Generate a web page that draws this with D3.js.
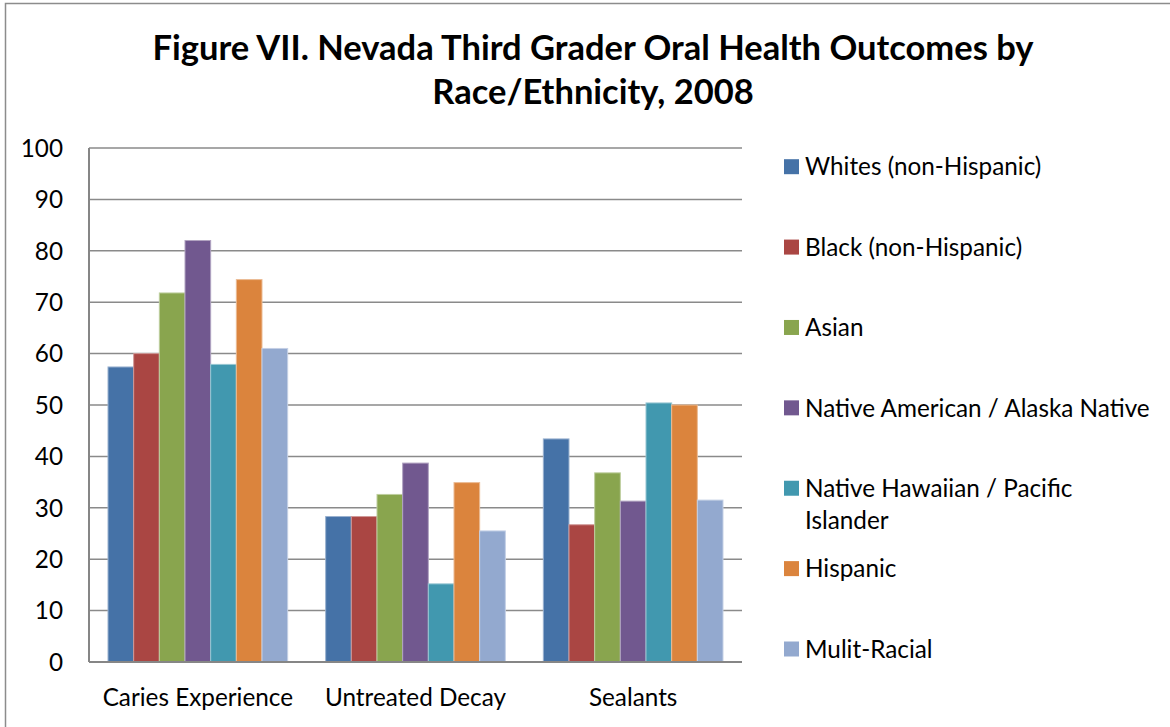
<!DOCTYPE html>
<html>
<head>
<meta charset="utf-8">
<script src="https://cdn.jsdelivr.net/npm/d3@7/dist/d3.min.js"></script>
<style>
  body { margin: 0; background: #fff; }
  svg { display: block; font-family: Lato, 'Liberation Sans', sans-serif; }
</style>
</head>
<body>
<div id="chart"></div>
<script>
const categories = ['Caries Experience', 'Untreated Decay', 'Sealants'];
const seriesNames = [
  'Whites (non-Hispanic)',
  'Black (non-Hispanic)',
  'Asian',
  'Native American / Alaska Native',
  'Native Hawaiian / Pacific Islander',
  'Hispanic',
  'Mulit-Racial'
];
const legendLines = [
  ['Whites (non-Hispanic)'],
  ['Black (non-Hispanic)'],
  ['Asian'],
  ['Native American / Alaska Native'],
  ['Native Hawaiian / Pacific', 'Islander'],
  ['Hispanic'],
  ['Mulit-Racial']
];
// one array per series, values in category order
const whites = [57.4, 28.3, 43.4];
const black = [60.0, 28.3, 26.7];
const asian = [71.8, 32.6, 36.8];
const nativeAmerican = [82.0, 38.7, 31.3];
const nativeHawaiian = [57.9, 15.2, 50.4];
const hispanic = [74.4, 34.9, 50.0];
const multiRacial = [61.0, 25.5, 31.5];
const yTicks = [0, 10, 20, 30, 40, 50, 60, 70, 80, 90, 100];
const colors = ['#4572A7', '#AA4643', '#89A54E', '#71588F', '#4198AF', '#DB843D', '#93A9CF'];

const seriesValues = [whites, black, asian, nativeAmerican, nativeHawaiian, hispanic, multiRacial];

const width = 1170;
const height = 727;
const plot = { left: 89, right: 742, top: 148, bottom: 662 };
const LABEL_SIZE = 24.3;

const svg = d3.select('#chart')
  .append('svg')
  .attr('width', width)
  .attr('height', height);

// chart border (Excel chart area)
svg.append('rect')
  .attr('x', 5.5)
  .attr('y', 3.5)
  .attr('width', 1200)
  .attr('height', 800)
  .attr('fill', '#fff')
  .attr('stroke', '#8c8c8c')
  .attr('stroke-width', 1.5);

// title
svg.append('text')
  .attr('x', 593)
  .attr('text-anchor', 'middle')
  .attr('font-weight', 'bold')
  .attr('font-size', 34.5)
  .selectAll('tspan')
  .data(['Figure VII. Nevada Third Grader Oral Health Outcomes by', 'Race/Ethnicity, 2008'])
  .enter().append('tspan')
    .attr('x', 593)
    .attr('y', (d, i) => 60 + 44 * i)
    .text((d) => d);

const x = d3.scaleBand()
  .domain(categories)
  .range([plot.left, plot.right]);

const xInner = d3.scaleBand()
  .domain(seriesNames)
  .range([19, x.bandwidth() - 19]);

const y = d3.scaleLinear()
  .domain([0, 100])
  .range([plot.bottom, plot.top]);

// gridlines
svg.append('g')
  .selectAll('line')
  .data(yTicks.filter((t) => t > 0))
  .enter().append('line')
    .attr('x1', plot.left)
    .attr('x2', plot.right)
    .attr('y1', (d) => y(d))
    .attr('y2', (d) => y(d))
    .attr('stroke', '#8a8a8a')
    .attr('stroke-width', 1.5);

// bars
const group = svg.append('g')
  .selectAll('g')
  .data(categories)
  .enter().append('g')
    .attr('transform', (d) => `translate(${x(d)},0)`);

group.selectAll('rect')
  .data((d, ci) => seriesNames.map((name, si) => ({ name, si, value: seriesValues[si][ci] })))
  .enter().append('rect')
    .attr('x', (d) => xInner(d.name))
    .attr('y', (d) => y(d.value))
    .attr('width', xInner.bandwidth())
    .attr('height', (d) => y(0) - y(d.value))
    .attr('fill', (d) => colors[d.si])
    .attr('stroke', (d) => d3.interpolateRgb(colors[d.si], '#fff')(0.45))
    .attr('stroke-width', 1);

// axes lines
svg.append('line')
  .attr('x1', plot.left).attr('x2', plot.left)
  .attr('y1', plot.top).attr('y2', plot.bottom)
  .attr('stroke', '#868686').attr('stroke-width', 2);
svg.append('line')
  .attr('x1', plot.left).attr('x2', plot.right)
  .attr('y1', plot.bottom).attr('y2', plot.bottom)
  .attr('stroke', '#868686').attr('stroke-width', 2);

// y tick labels
svg.append('g')
  .selectAll('text')
  .data(yTicks)
  .enter().append('text')
    .attr('x', 63)
    .attr('y', (d) => y(d))
    .attr('dy', '0.36em')
    .attr('text-anchor', 'end')
    .attr('font-size', LABEL_SIZE)
    .attr('fill', '#000')
    .text((d) => d);

// x category labels
svg.append('g')
  .selectAll('text')
  .data(categories)
  .enter().append('text')
    .attr('x', (d) => x(d) + x.bandwidth() / 2)
    .attr('y', 697)
    .attr('dy', '0.36em')
    .attr('text-anchor', 'middle')
    .attr('font-size', LABEL_SIZE)
    .text((d) => d);

// legend
const legendY = d3.scalePoint()
  .domain(seriesNames)
  .range([166.7, 649]);

const legendItem = svg.append('g')
  .selectAll('g')
  .data(seriesNames)
  .enter().append('g')
    .attr('transform', (d) => `translate(784,${legendY(d)})`);

legendItem.append('rect')
  .attr('x', 0)
  .attr('y', -7.5)
  .attr('width', 15)
  .attr('height', 15)
  .attr('fill', (d, i) => colors[i]);

legendItem.append('text')
  .attr('font-size', LABEL_SIZE)
  .selectAll('tspan')
  .data((d, i) => legendLines[i])
  .enter().append('tspan')
    .attr('x', 21)
    .attr('y', (d, i) => i * 32)
    .attr('dy', '0.36em')
    .text((d) => d);
</script>
</body>
</html>
